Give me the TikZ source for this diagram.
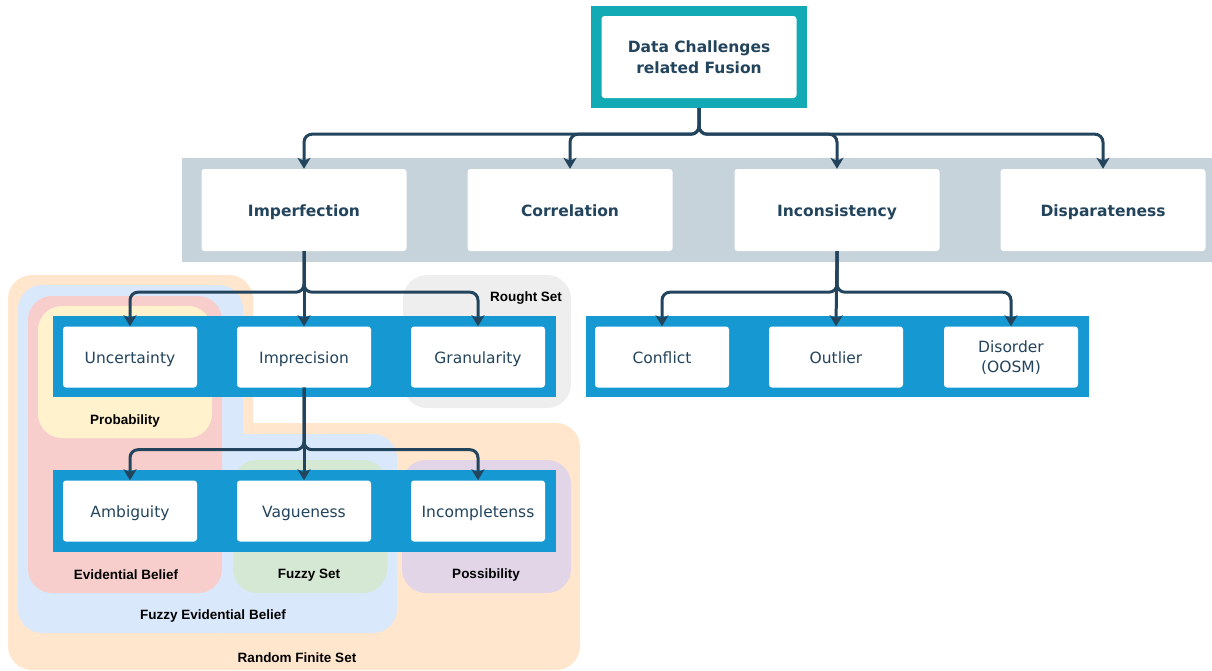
\documentclass[tikz,border=0pt]{standalone}
\usepackage{fontspec}
\setmainfont{DejaVu Sans}
\newfontfamily\lblfont{Liberation Sans}
\usetikzlibrary{arrows.meta}

\definecolor{navy}{HTML}{23445D}
\definecolor{tealframe}{HTML}{12AAB5}
\definecolor{bandgrey}{HTML}{C7D3DB}
\definecolor{bandblue}{HTML}{1699D3}
\definecolor{rfsorange}{HTML}{FFE6CC}
\definecolor{feblue}{HTML}{DAE8FC}
\definecolor{evpink}{HTML}{F8CECC}
\definecolor{probyellow}{HTML}{FFF2CC}
\definecolor{fuzzygreen}{HTML}{D5E8D4}
\definecolor{posspurple}{HTML}{E1D5E7}
\definecolor{roughgrey}{HTML}{EEEEEE}

\tikzset{
  box/.style={fill=white, rounded corners=3pt, text=navy, align=center, inner sep=2pt,
    font=\fontsize{15.5}{20}\selectfont},
  oneline/.style={text height=12pt, text depth=0pt},
  bigbox/.style={box, oneline, minimum width=205pt, minimum height=82pt,
    font=\fontsize{15.5}{20}\selectfont\bfseries},
  smallbox/.style={box, oneline, minimum width=134pt, minimum height=61pt},
  zone/.style={rounded corners=24pt},
  zonelabel/.style={font=\lblfont\fontsize{13.5}{16}\selectfont\bfseries},
  link/.style={draw=navy, line width=3pt, rounded corners=8pt,
    -{Stealth[length=11pt,width=13pt,inset=3pt]}}
}

\begin{document}
\begin{tikzpicture}[x=1pt,y=-1pt]
\useasboundingbox (0,0) rectangle (1212,670);

% Bereiche (Hintergrund)
\fill[rfsorange, zone] (8,275) rectangle (253,670); % Random Finite Set
\fill[rfsorange, zone] (200,423) rectangle (580,670);
\fill[feblue, zone] (18,285) rectangle (243,633); % Fuzzy Evidential Belief
\fill[feblue, zone] (200,434) rectangle (397,633);
\fill[evpink, zone] (28,296) rectangle (222,593); % Evidential Belief
\fill[probyellow, zone] (38,306) rectangle (212,438); % Probability
\fill[fuzzygreen, zone] (233,460) rectangle (387,593); % Fuzzy Set
\fill[posspurple, zone] (402,460) rectangle (571,593); % Possibility
\fill[roughgrey, zone] (403,275) rectangle (571,408); % Rought Set

% Bereichsnamen
\node[zonelabel] (lrough) at (526,298) {Rought Set};
\node[zonelabel] (lprob) at (125,421) {Probability};
\node[zonelabel] (levid) at (126,575) {Evidential Belief};
\node[zonelabel] (lfuzzy) at (309,575) {Fuzzy Set};
\node[zonelabel] (lposs) at (486,575) {Possibility};
\node[zonelabel] (lfeb) at (213,616) {Fuzzy Evidential Belief};
\node[zonelabel] (lrfs) at (297,658) {Random Finite Set};

% Baender
\fill[bandgrey] (182,158) rectangle (1212,262);
\fill[bandblue] (53,316) rectangle (556,397);
\fill[bandblue] (53,470) rectangle (556,552);
\fill[bandblue] (586,316) rectangle (1089,397);

% Wurzel
\node[fill=tealframe, minimum width=216pt, minimum height=102pt] (frame) at (699,57) {};
\node[box, minimum width=195pt, minimum height=82pt, font=\fontsize{15.5}{21}\selectfont\bfseries]
  (root) at (699,57) {Data Challenges\\related Fusion};

% erste Ebene
\node[bigbox] (imperf) at (304,210) {Imperfection};
\node[bigbox] (correl) at (570,210) {Correlation};
\node[bigbox] (incons) at (837,210) {Inconsistency};
\node[bigbox] (dispar) at (1103,210) {Disparateness};

% zweite Ebene
\node[smallbox] (uncert) at (130,357) {Uncertainty};
\node[smallbox] (imprec) at (304,357) {Imprecision};
\node[smallbox] (granul) at (478,357) {Granularity};
\node[smallbox] (confl) at (662,357) {Conflict};
\node[smallbox] (outl) at (836,357) {Outlier};
\node[box, minimum width=134pt, minimum height=61pt, text depth=-6pt] (disord) at (1011,357) {Disorder\\(OOSM)};

% dritte Ebene
\node[smallbox] (ambig) at (130,511) {Ambiguity};
\node[smallbox] (vague) at (304,511) {Vagueness};
\node[smallbox] (incompl) at (478,511) {Incompletenss};

% Pfeile
\draw[link] (frame.south) -- ++(0,26) -| (imperf.north);
\draw[link] (frame.south) -- ++(0,26) -| (correl.north);
\draw[link] (frame.south) -- ++(0,26) -| (incons.north);
\draw[link] (frame.south) -- ++(0,26) -| (dispar.north);

\draw[link] (imperf.south) -- ++(0,41) -| (uncert.north);
\draw[link] (imperf.south) -- (imprec.north);
\draw[link] (imperf.south) -- ++(0,41) -| (granul.north);

\draw[link] (imprec.south) -- ++(0,62) -| (ambig.north);
\draw[link] (imprec.south) -- (vague.north);
\draw[link] (imprec.south) -- ++(0,62) -| (incompl.north);

\draw[link] (incons.south) -- ++(0,41) -| (confl.north);
\draw[link] (incons.south) -- (outl.north);
\draw[link] (incons.south) -- ++(0,41) -| (disord.north);

\end{tikzpicture}
\end{document}
